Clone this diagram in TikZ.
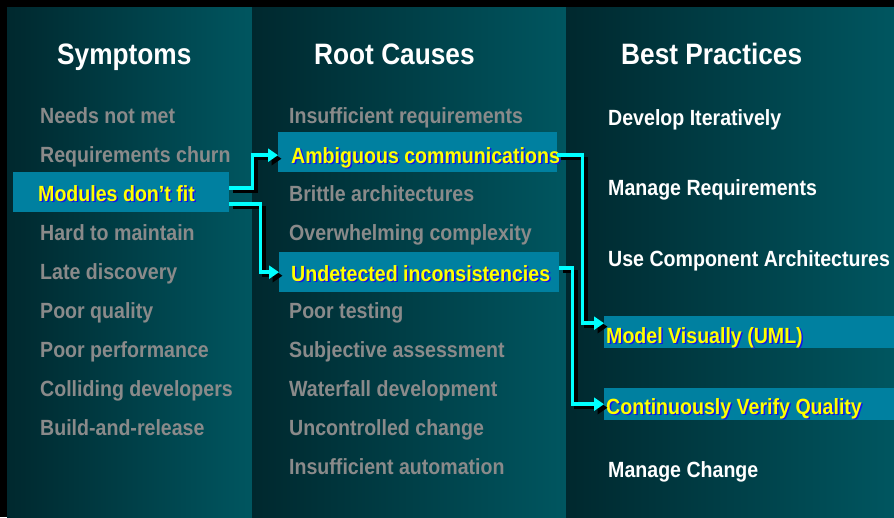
\documentclass[tikz,border=0pt]{standalone}
\usepackage{fontspec}
\setmainfont{Liberation Sans}[FakeStretch=0.89]
\usepackage{xcolor}
\usepackage{tikz}
\usetikzlibrary{arrows.meta, positioning, calc}

\definecolor{paneldark}{RGB}{0,40,46}
\definecolor{panellight}{RGB}{0,86,96}
\definecolor{hlfill}{RGB}{0,128,160}
\definecolor{itemgray}{RGB}{138,138,138}
\definecolor{hlyellow}{RGB}{255,255,0}
\definecolor{hlshadow}{RGB}{20,20,235}
\definecolor{linkcyan}{RGB}{0,255,255}

\newcommand{\hltext}[1]{\makebox[0pt][l]{\hspace{1.5pt}\raisebox{-1.5pt}{\color{hlshadow}#1}}{\color{hlyellow}#1}}

\tikzset{
    heading/.style={anchor=base west, inner sep=0pt, text=white, font=\bfseries\fontsize{29.5}{34}\selectfont},
    item/.style={anchor=base west, inner sep=0pt, text=itemgray, font=\bfseries\fontsize{22}{26}\selectfont},
    practice/.style={item, text=white},
    hlbox/.style={fill=hlfill, inner sep=0pt, anchor=north west},
    link/.style={draw=linkcyan, line width=3.5pt, -{Triangle[length=10pt,width=13pt]}},
    linkshadow/.style={link, draw=black, transform canvas={shift={(3.5pt,-3.5pt)}}}
}

\begin{document}
\begin{tikzpicture}[x=1pt, y=-1pt]
    \useasboundingbox (0,0) rectangle (894,517);
    \fill[black] (0,0) rectangle (894,517);
    % three panels
    \shade[left color=paneldark, right color=panellight] (7,7) rectangle (252,517);
    \shade[left color=paneldark, right color=panellight] (252,7) rectangle (566,517);
    \shade[left color=paneldark, right color=panellight] (566,7) rectangle (894,517);

    % headings
    \node[heading] (symptoms) at (57,64) {Symptoms};
    \node[heading] (causes) at (314,64) {Root Causes};
    \node[heading] (practices) at (621,64) {Best Practices};

    % highlight boxes
    \node[hlbox, minimum width=216pt, minimum height=40pt] (modsbox) at (13,172) {};
    \node[hlbox, minimum width=279pt, minimum height=40pt] (ambbox) at (278,132) {};
    \node[hlbox, minimum width=280pt, minimum height=40pt] (undbox) at (279,252) {};
    \node[hlbox, minimum width=290pt, minimum height=32pt] (modelbox) at (604,316) {};
    \node[hlbox, minimum width=290pt, minimum height=32pt] (cvqbox) at (604,388) {};

    % symptoms
    \foreach \txt/\yy [count=\i] in {Needs not met/123, Requirements churn/162,
        Hard to maintain/240, Late discovery/279, Poor quality/318,
        Poor performance/357, Colliding developers/396, Build-and-release/435}
        \node[item] (sym\i) at (40,\yy) {\txt};
    \node[item] (modstext) at (38,201) {\hltext{Modules don’t fit}};

    % root causes
    \foreach \txt/\yy [count=\i] in {Insufficient requirements/123, Brittle architectures/201,
        Overwhelming complexity/240, Poor testing/318, Subjective assessment/357,
        Waterfall development/396, Uncontrolled change/435, Insufficient automation/474}
        \node[item] (cause\i) at (289,\yy) {\txt};
    \node[item] (ambtext) at (291,163) {\hltext{Ambiguous communications}};
    \node[item] (undtext) at (291,281) {\hltext{Undetected inconsistencies}};

    % best practices
    \node[practice] (iter) at (608,125) {Develop Iteratively};
    \node[practice] (reqs) at (608,195) {Manage Requirements};
    \node[practice] (comp) at (608,266) {Use Component Architectures};
    \node[item] (modeltext) at (606,343) {\hltext{Model Visually (UML)}};
    \node[item] (cvqtext) at (606,414) {\hltext{Continuously Verify Quality}};
    \node[practice] (change) at (608,477) {Manage Change};

    % connectors
    \draw[linkshadow] ([yshift=4pt]modsbox.east) -- ++(23,0) |- ([yshift=-3pt]ambbox.west);
    \draw[link] ([yshift=4pt]modsbox.east) -- ++(23,0) |- ([yshift=-3pt]ambbox.west);
    \draw[linkshadow] ([yshift=-12pt]modsbox.east) -- ++(31,0) |- (undbox.west);
    \draw[link] ([yshift=-12pt]modsbox.east) -- ++(31,0) |- (undbox.west);
    \draw[linkshadow] ([yshift=-3pt]ambbox.east) -- ++(25,0) |- ([yshift=9pt]modelbox.west);
    \draw[link] ([yshift=-3pt]ambbox.east) -- ++(25,0) |- ([yshift=9pt]modelbox.west);
    \draw[linkshadow] ([yshift=4pt]undbox.east) -- ++(13,0) |- (cvqbox.west);
    \draw[link] ([yshift=4pt]undbox.east) -- ++(13,0) |- (cvqbox.west);
\end{tikzpicture}
\end{document}
